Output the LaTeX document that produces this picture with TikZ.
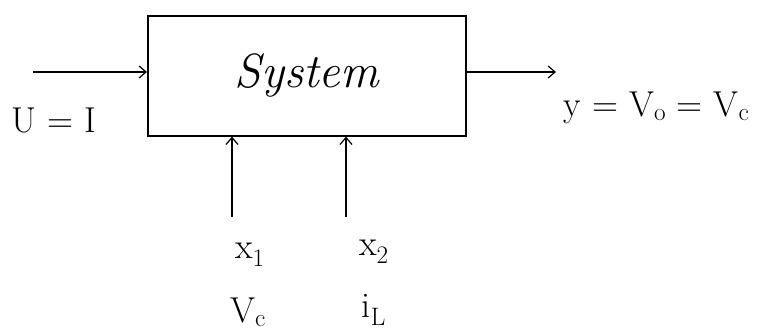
\documentclass[tikz,border=0pt]{standalone}
\usetikzlibrary{positioning,arrows.meta}
\begin{document}
\begin{tikzpicture}[x=1pt,y=-1pt,>={Straight Barb[length=7pt,width=12pt]},line width=1.2pt,
    lbl/.style={font=\fontsize{36}{42}\selectfont}]
            \useasboundingbox (0,0) rectangle (776,336);
            % Blocco
            \node[draw,line width=1.6pt,minimum width=318pt,minimum height=120pt,anchor=north west,
                  font=\fontsize{48}{56}\selectfont\itshape] (sys) at (147,15) {System};
            % Ingresso
            \coordinate (uin) at (33,72);
            \draw[->] (uin) -- (uin -| sys.west);
            \node[lbl] (u) at (54,120) {U = I};
            % Uscita
            \coordinate (yout) at (556,72);
            \draw[->] (yout -| sys.east) -- (yout);
            \node[lbl,anchor=west] (y) at (560,108) {y = V\textsubscript{o} = V\textsubscript{c}};
            % Stati
            \coordinate (xa) at (232,217);
            \coordinate (xb) at (346,217);
            \draw[->] (xa) -- (xa |- sys.south);
            \draw[->] (xb) -- (xb |- sys.south);
            \node[lbl] (x1) at (250,255) {x\textsubscript{1}};
            \node[lbl] (x2) at (374,252) {x\textsubscript{2}};
            \node[lbl] (vc) at (248,312) {V\textsubscript{c}};
            \node[lbl] (il) at (374,310) {i\textsubscript{L}};
        \end{tikzpicture}
\end{document}
